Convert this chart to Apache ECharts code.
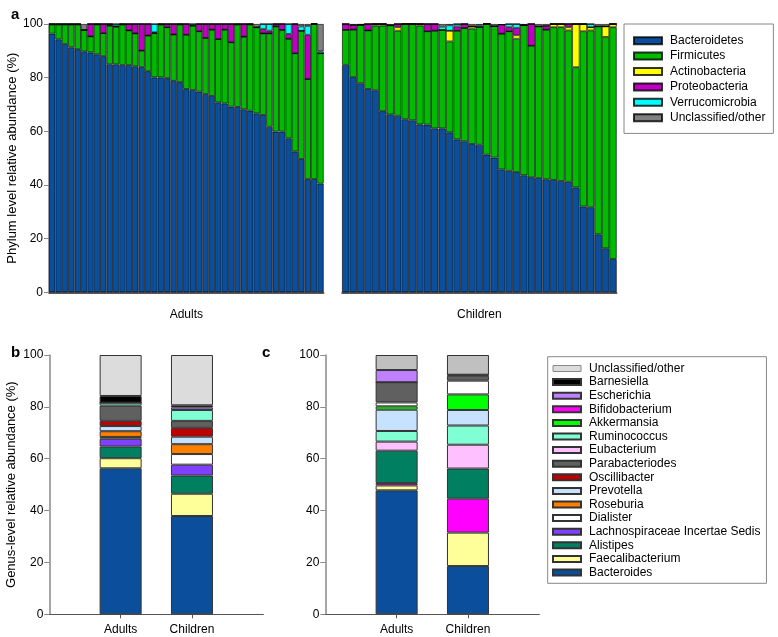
<!DOCTYPE html>
<html><head><meta charset="utf-8">
<script src="https://cdn.jsdelivr.net/npm/echarts@6/dist/echarts.min.js"></script>
<style>html,body{margin:0;padding:0;background:#fff}#c{width:778px;height:637px}</style>
</head><body><div id="c"></div>
<script>
// ---------- Panel a: phylum level, per subject ----------
const phyla = ['Bacteroidetes','Firmicutes','Actinobacteria','Proteobacteria','Verrucomicrobia','Unclassified/other'];
const adultsBacteroidetes = [96.4,94.3,92.5,91.3,90.6,89.8,89.4,88.7,88.0,85.0,85.0,84.7,84.7,84.2,83.9,82.4,80.1,80.1,79.8,78.8,78.3,75.8,75.4,74.8,73.9,73.2,70.8,70.4,69.2,69.1,68.2,67.7,66.7,66.1,61.7,59.9,59.9,57.4,52.5,49.7,42.2,42.2,40.5];
const adultsFirmicutes = [3.4,5.5,7.3,8.5,9.2,8.0,6.0,11.1,8.6,14.4,14.0,15.1,12.9,12.3,6.2,13.3,16.5,19.7,19.0,17.3,21.5,20.2,24.0,22.5,20.9,24.7,23.6,27.5,24.0,30.7,27.1,32.1,32.1,30.4,34.8,39.2,37.9,37.1,36.6,47.8,37.3,57.8,48.6];
const adultsActinobacteria = [0,0,0,0,0,0,0,0,0,0,0,0,0,0,0,0,0,0,0,0,0,0,0,0,0,0,0,0,0,0,0,0,0,0,0,0,0,0,0,0,0,0,0];
const adultsProteobacteria = [0.2,0.2,0.2,0.2,0.2,0,4.6,0.2,3.4,0.6,0.2,0.2,2.4,3.5,9.9,4.3,0.3,0.2,1.2,3.9,0.2,4.0,0,2.7,5.2,2.1,5.6,2.1,6.8,0.2,4.7,0.2,0,1.6,1.0,0.9,2.2,1.8,10.9,0,16.5,0,0];
const adultsVerrucomicrobia = [0,0,0,0,0,0,0,0,0,0,0.8,0,0,0,0,0,3.1,0,0,0,0,0,0.6,0,0,0,0,0,0,0,0,0,0,1.9,2.5,0,0,3.7,0,1.6,3.3,0,0.7];
const adultsOther = [0,0,0,0,0,2.2,0,0,0,0,0,0,0,0,0,0,0,0,0,0,0,0,0,0,0,0,0,0,0,0,0,0,1.2,0,0,0,0,0,0,0.9,0.7,0,10.2];

const childrenBacteroidetes = [84.8,80.2,77.9,75.8,75.3,67.5,66.3,65.8,64.5,64.1,62.6,62.5,61.1,61.1,59.6,57.0,56.3,55.3,55.0,51.3,50.2,45.8,45.3,44.8,43.6,42.9,42.6,42.1,41.9,41.5,41.2,39.1,32.0,31.7,21.6,16.4,12.4];
const childrenFirmicutes = [13.0,17.7,21.8,21.8,24.1,31.9,33.2,31.7,35.5,35.9,36.8,34.8,36.4,36.7,33.9,40.5,42.2,43.0,43.9,48.7,49.0,50.6,52.0,49.7,56.0,49.0,56.5,55.8,56.9,57.3,56.4,44.8,65.3,65.9,77.5,78.8,86.4];
const childrenActinobacteria = [0,0,0,0,0.6,0.6,0,1.3,0,0,0.6,0,0,0,4.0,0,0,0.8,0,0,0,0,0,1.3,0,0,0,0,1.2,1.2,1.2,16.1,2.7,1.2,0,3.9,1.2];
const childrenProteobacteria = [2.2,1.7,0,2.4,0,0,0,1.2,0,0,0,2.7,2.5,0,0,1.6,1.5,0,0,0,0,3.4,1.5,2.7,0,8.1,0,1.4,0,0,1.2,0,0,0,0,0,0];
const childrenVerrucomicrobia = [0,0,0,0,0,0,0,0,0,0,0,0,0,1.2,2.0,0.9,0,0,0.6,0,0,0,1.2,1.5,0,0,0,0,0,0,0,0,0,1.2,0,0,0];
const childrenOther = [0,0.4,0.3,0,0,0,0.5,0,0,0,0,0,0,1.0,0.5,0,0,0.9,0.5,0,0.8,0,0,0,0.4,0,0.9,0.7,0,0,0,0,0,0,0.9,0.9,0];

// ---------- Panels b and c: genus level, group means ----------
const groups = ['Adults','Children'];
const genusLegend = ['Unclassified/other','Barnesiella','Escherichia','Bifidobacterium','Akkermansia','Ruminococcus','Eubacterium','Parabacteriodes','Oscillibacter','Prevotella','Roseburia','Dialister','Lachnospiraceae Incertae Sedis','Alistipes','Faecalibacterium','Bacteroides'];
// panel b, bottom to top
const bNames = ['Bacteroides','Faecalibacterium','Alistipes','Lachnospiraceae Incertae Sedis','Dialister','Roseburia','Prevotella','Oscillibacter','Parabacteriodes','Ruminococcus','Escherichia','Barnesiella','Unclassified/other'];
const bBacteroides = [56.3,37.9];
const bFaecalibacterium = [3.9,8.6];
const bAlistipes = [4.5,7.0];
const bLachnospiraceae = [3.0,4.2];
const bDialister = [0.7,4.1];
const bRoseburia = [2.2,3.8];
const bPrevotella = [2.0,2.9];
const bOscillibacter = [2.0,3.4];
const bParabacteriodes = [5.9,2.7];
const bRuminococcus = [1.1,4.2];
const bEscherichia = [0,1.0];
const bBarnesiella = [2.6,0.8];
const bUnclassified = [15.8,19.4];
// panel c, bottom to top
const cNames = ['Bacteroides','Faecalibacterium','Bifidobacterium','Alistipes','Eubacterium','Ruminococcus','Prevotella','Akkermansia','Dialister','Parabacteriodes','Barnesiella','Escherichia','Unclassified/other'];
const cBacteroides = [47.8,18.6];
const cFaecalibacterium = [1.9,12.9];
const cBifidobacterium = [0.9,13.1];
const cAlistipes = [12.5,11.6];
const cEubacterium = [3.5,9.2];
const cRuminococcus = [4.1,7.4];
const cPrevotella = [8.2,6.0];
const cAkkermansia = [1.3,6.0];
const cDialister = [1.5,5.3];
const cParabacteriodes = [7.8,1.9];
const cBarnesiella = [0,0.4];
const cEscherichia = [4.7,0];
const cUnclassified = [5.8,7.6];

// ---------- styles ----------
const phylumColors = {'Bacteroidetes':'#0b4f9c','Firmicutes':'#00bb00','Actinobacteria':'#ffff00','Proteobacteria':'#c000c0','Verrucomicrobia':'#00ffff','Unclassified/other':'#808080'};
const genusColors = {'Unclassified/other':'#dcdcdc','Barnesiella':'#000000','Escherichia':'#bf80ff','Bifidobacterium':'#ff00ff','Akkermansia':'#00ff00','Ruminococcus':'#80ffd4','Eubacterium':'#ffc0ff','Parabacteriodes':'#606060','Oscillibacter':'#c00000','Prevotella':'#c6e2ff','Roseburia':'#ff8000','Dialister':'#ffffff','Lachnospiraceae Incertae Sedis':'#8040ff','Alistipes':'#008060','Faecalibacterium':'#ffff99','Bacteroides':'#0b4f9c'};
const FONT = 'Liberation Sans, Arial, sans-serif';

const adultsData = [adultsBacteroidetes,adultsFirmicutes,adultsActinobacteria,adultsProteobacteria,adultsVerrucomicrobia,adultsOther];
const childrenData = [childrenBacteroidetes,childrenFirmicutes,childrenActinobacteria,childrenProteobacteria,childrenVerrucomicrobia,childrenOther];
const bData = [bBacteroides,bFaecalibacterium,bAlistipes,bLachnospiraceae,bDialister,bRoseburia,bPrevotella,bOscillibacter,bParabacteriodes,bRuminococcus,bEscherichia,bBarnesiella,bUnclassified];
const cData = [cBacteroides,cFaecalibacterium,cBifidobacterium,cAlistipes,cEubacterium,cRuminococcus,cPrevotella,cAkkermansia,cDialister,cParabacteriodes,cBarnesiella,cEscherichia,cUnclassified];

// group axis for b/c: padded with an empty slot on each side (bars sit at 1/3 and 2/3 of the axis)
const groupSlots = [''].concat(groups, ['']);
const padGroups = vals => ['-'].concat(vals, ['-']);

const series = [];
phyla.forEach((p,k)=>{
  series.push({type:'bar',name:p,xAxisIndex:0,yAxisIndex:0,stack:'a1',data:adultsData[k],barCategoryGap:'0%',
    itemStyle:{color:phylumColors[p],borderColor:'rgba(0,0,0,0.8)',borderWidth:0.8}});
});
phyla.forEach((p,k)=>{
  series.push({type:'bar',name:p,xAxisIndex:1,yAxisIndex:1,stack:'a2',data:childrenData[k],barCategoryGap:'0%',
    itemStyle:{color:phylumColors[p],borderColor:'rgba(0,0,0,0.8)',borderWidth:0.8}});
});
bNames.forEach((g,k)=>{
  series.push({type:'bar',name:g,xAxisIndex:2,yAxisIndex:2,stack:'b',barWidth:42,
    data:padGroups(bData[k]),
    itemStyle:{color:genusColors[g],borderColor:'#333',borderWidth:1}});
});
cNames.forEach((g,k)=>{
  const col = g==='Unclassified/other' ? '#c0c0c0' : genusColors[g];
  series.push({type:'bar',name:g,xAxisIndex:3,yAxisIndex:3,stack:'c',barWidth:42,
    data:padGroups(cData[k]),
    itemStyle:{color:col,borderColor:'#333',borderWidth:1}});
});

const idx = n => Array.from({length:n},(_,i)=>String(i+1));
const txt = {color:'#000',fontFamily:FONT,fontSize:12};

function catX(grid,n,name){
  return {type:'category',gridIndex:grid,data:idx(n),axisLabel:{show:false},axisTick:{show:false},
    axisLine:{lineStyle:{color:'#222',width:1.5}},name:name,nameLocation:'middle',nameGap:16,nameTextStyle:txt};
}
function groupX(grid){
  return {type:'category',gridIndex:grid,data:groupSlots,boundaryGap:false,
    axisLine:{lineStyle:{color:'#555',width:1.2}},
    axisTick:{length:4,interval:(i,v)=>v!=='',lineStyle:{color:'#555'}},
    axisLabel:Object.assign({margin:9,interval:0},txt)};
}
function valY(grid,name,gap,showLabels){
  return {type:'value',gridIndex:grid,min:0,max:100,interval:20,splitLine:{show:false},
    axisLine:{show:true,lineStyle:{color:'#888',width:1.5}},
    axisTick:{show:showLabels,length:5,lineStyle:{color:'#888'}},
    axisLabel:Object.assign({show:showLabels,margin:6},txt),
    name:name,nameLocation:'middle',nameGap:gap,nameTextStyle:Object.assign({},txt,{fontSize:13})};
}

const genusLegendData = genusLegend.map(g => g==='Unclassified/other'
  ? {name:g,itemStyle:{color:genusColors[g],borderColor:'#888',borderWidth:1}}
  : g);

const option = {
  animation:false,
  textStyle:{fontFamily:FONT},
  title:[
    {text:'a',left:6,top:2,textStyle:{fontFamily:FONT,fontSize:15,fontWeight:'bold',color:'#000'}},
    {text:'b',left:6,top:340,textStyle:{fontFamily:FONT,fontSize:15,fontWeight:'bold',color:'#000'}},
    {text:'c',left:257,top:340,textStyle:{fontFamily:FONT,fontSize:15,fontWeight:'bold',color:'#000'}}
  ],
  grid:[
    {left:49,top:24,width:274.7,height:268.3,outerBoundsMode:'none',containLabel:false},
    {left:342,top:24,width:274.7,height:268.3,outerBoundsMode:'none',containLabel:false},
    {left:49.3,top:355,width:214,height:259.3,outerBoundsMode:'none',containLabel:false},
    {left:325.3,top:355,width:214,height:259.3,outerBoundsMode:'none',containLabel:false}
  ],
  xAxis:[catX(0,adultsBacteroidetes.length,'Adults'),catX(1,childrenBacteroidetes.length,'Children'),groupX(2),groupX(3)],
  yAxis:[
    valY(0,'Phylum level relative abundance (%)',30,true),
    Object.assign(valY(1,'',0,false),{axisLine:{show:false}}),
    valY(2,'Genus-level relative abundance (%)',31,true),
    valY(3,'',0,true)
  ],
  legend:[
    {data:phyla,orient:'vertical',left:624,top:24,padding:[9,8,8,9],itemWidth:28,itemHeight:7,itemGap:0,
     icon:'rect',selectedMode:false,borderColor:'#888',borderWidth:1,
     textStyle:{color:'#000',fontFamily:FONT,fontSize:12,lineHeight:15.4,padding:[0,0,0,3]}},
    {data:genusLegendData,orient:'vertical',left:547.7,top:356.7,padding:[5,6,4,4.3],itemWidth:28,itemHeight:6,itemGap:0,
     icon:'rect',selectedMode:false,borderColor:'#888',borderWidth:1,
     textStyle:{color:'#000',fontFamily:FONT,fontSize:12,lineHeight:13.6,padding:[0,0,0,3]}}
  ],
  series:series
};
const chart = echarts.init(document.getElementById('c'),null,{renderer:'canvas'});
chart.setOption(option);
</script></body></html>
